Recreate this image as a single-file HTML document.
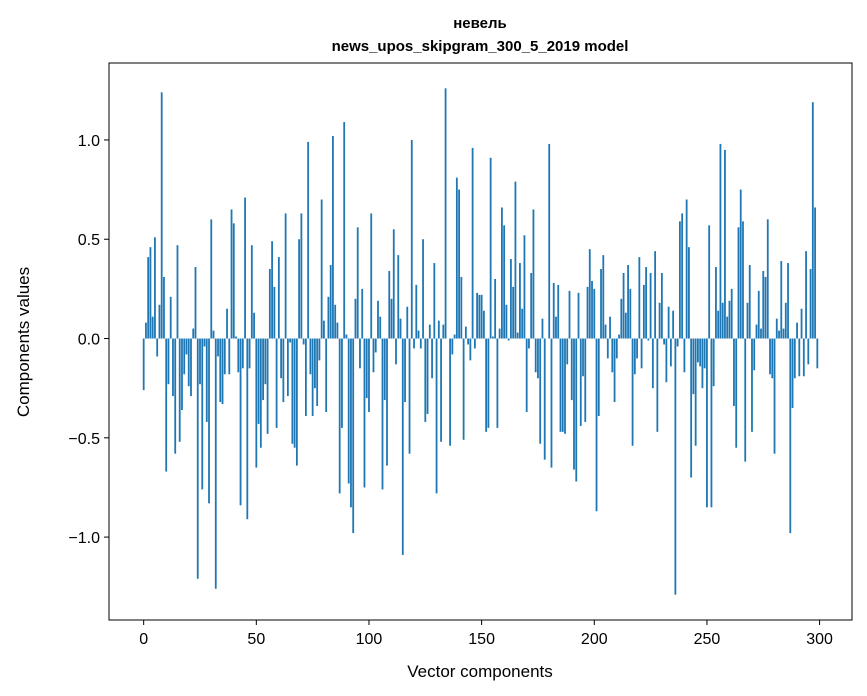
<!DOCTYPE html>
<html><head><meta charset="utf-8"><style>
body{margin:0;background:#fff;}
svg{display:block;font-family:"Liberation Sans","DejaVu Sans",sans-serif;}
</style></head><body>
<svg id="chart" width="867" height="696">
<text x="480" y="28" text-anchor="middle" font-size="15" font-weight="bold">невель</text>
<text x="480" y="51" text-anchor="middle" font-size="15" font-weight="bold">news_upos_skipgram_300_5_2019 model</text>
<g id="bars"></g>
<g id="axes"></g>
<text x="480" y="677" text-anchor="middle" font-size="17">Vector components</text>
<text transform="translate(29,342) rotate(-90)" text-anchor="middle" font-size="17">Components values</text>
</svg>
<script>
const values = [-0.26,0.08,0.41,0.46,0.11,0.51,-0.09,0.17,1.24,0.31,-0.67,-0.23,0.21,-0.29,-0.58,0.47,-0.52,-0.36,-0.18,-0.08,
-0.24,-0.29,0.05,0.36,-1.21,-0.23,-0.76,-0.04,-0.42,-0.83,0.6,0.04,-1.26,-0.09,-0.32,-0.33,-0.18,0.15,-0.18,0.65,
0.58,0.01,-0.17,-0.84,-0.15,0.71,-0.91,-0.15,0.47,0.13,-0.65,-0.43,-0.55,-0.31,-0.23,-0.48,0.35,0.49,0.26,-0.45,
0.41,-0.2,-0.32,0.63,-0.29,-0.02,-0.53,-0.55,-0.64,0.5,0.63,-0.03,-0.39,0.99,-0.18,-0.39,-0.25,-0.34,-0.11,0.7,
0.09,-0.37,0.21,0.37,1.02,0.17,0.08,-0.78,-0.45,1.09,0.02,-0.73,-0.85,-0.98,0.2,0.56,-0.15,0.25,-0.75,-0.3,
-0.37,0.63,-0.17,-0.07,0.19,0.11,-0.76,-0.31,-0.64,0.34,0.2,0.55,-0.13,0.42,0.1,-1.09,-0.32,0.16,-0.58,1.0,
-0.05,0.27,0.04,-0.05,0.5,-0.42,-0.38,0.07,-0.2,0.38,-0.78,0.09,-0.52,0.07,1.26,0.0,-0.54,-0.08,0.02,0.81,
0.75,0.31,-0.51,0.06,-0.03,-0.11,0.96,-0.05,0.23,0.22,0.22,0.14,-0.47,-0.45,0.91,0.01,0.3,-0.45,0.05,0.66,
0.57,0.17,-0.01,0.4,0.26,0.79,0.03,0.38,0.15,0.52,-0.37,-0.05,0.33,0.65,-0.17,-0.2,-0.53,0.1,-0.61,0.0,
0.98,-0.65,0.28,0.11,0.27,-0.47,-0.47,-0.48,-0.13,0.24,-0.31,-0.66,-0.72,0.23,-0.44,-0.19,-0.42,0.26,0.45,0.29,
0.25,-0.87,-0.39,0.35,0.42,0.07,-0.1,0.11,-0.17,-0.32,-0.1,0.02,0.2,0.33,0.13,0.37,0.25,-0.54,-0.18,-0.1,
0.41,-0.15,0.27,0.36,-0.01,0.33,-0.25,0.44,-0.47,0.18,0.33,-0.03,-0.22,0.16,-0.14,0.14,-1.29,-0.04,0.59,0.63,
-0.17,0.7,0.46,-0.7,-0.28,-0.54,-0.12,-0.14,-0.25,-0.15,-0.85,0.57,-0.85,-0.24,0.36,0.14,0.98,0.18,0.95,0.11,
0.19,0.25,-0.34,-0.55,0.56,0.75,0.59,-0.62,0.18,0.37,-0.47,-0.16,0.07,0.24,0.05,0.34,0.31,0.6,-0.18,-0.2,
-0.58,0.1,0.04,0.39,0.05,0.18,0.38,-0.98,-0.35,-0.2,0.08,-0.19,0.15,-0.19,0.44,-0.13,0.35,1.19,0.66,-0.15];
const xTicks = [0,50,100,150,200,250,300];
const yTicks = [-1.0,-0.5,0.0,0.5,1.0];
const yTickLabels = ["\u22121.0","\u22120.5","0.0","0.5","1.0"];

const NS="http://www.w3.org/2000/svg";
const L=109,R=852,T=63,B=620;
const n=values.length;
const xmin=-0.4, xmax=n-1+0.4, xm=(xmax-xmin)*0.05;
const x0=xmin-xm, x1=xmax+xm;
const vmin=Math.min(0,...values), vmax=Math.max(0,...values), ym=(vmax-vmin)*0.05;
const y0=vmin-ym, y1=vmax+ym;
const sx=v=>L+(v-x0)/(x1-x0)*(R-L);
const sy=v=>B-(v-y0)/(y1-y0)*(B-T);
const bars=document.getElementById('bars');
values.forEach((v,i)=>{
  const r=document.createElementNS(NS,'rect');
  const a=sx(i-0.4), b=sx(i+0.4);
  r.setAttribute('x',a); r.setAttribute('width',b-a);
  r.setAttribute('y',Math.min(sy(v),sy(0))); r.setAttribute('height',Math.abs(sy(v)-sy(0)));
  r.setAttribute('fill','#1f77b4');
  
  
  bars.appendChild(r);
});
const ax=document.getElementById('axes');
const frame=document.createElementNS(NS,'rect');
frame.setAttribute('x',L);frame.setAttribute('y',T);frame.setAttribute('width',R-L);frame.setAttribute('height',B-T);
frame.setAttribute('fill','none');frame.setAttribute('stroke','#000');frame.setAttribute('stroke-width','1');


ax.appendChild(frame);
xTicks.forEach(t=>{
  const x=sx(t);
  const l=document.createElementNS(NS,'line');
  l.setAttribute('x1',x);l.setAttribute('x2',x);l.setAttribute('y1',B);l.setAttribute('y2',B+5);l.setAttribute('stroke','#000');
  
  
  ax.appendChild(l);
  const tx=document.createElementNS(NS,'text');
  tx.setAttribute('x',x);tx.setAttribute('y',B+24);tx.setAttribute('text-anchor','middle');tx.setAttribute('font-size','16');
  tx.textContent=t;
  
  
  ax.appendChild(tx);
});
yTicks.forEach((t,i)=>{
  const y=sy(t);
  const l=document.createElementNS(NS,'line');
  l.setAttribute('x1',L-5);l.setAttribute('x2',L);l.setAttribute('y1',y);l.setAttribute('y2',y);l.setAttribute('stroke','#000');
  
  
  ax.appendChild(l);
  const tx=document.createElementNS(NS,'text');
  tx.setAttribute('x',L-9);tx.setAttribute('y',y+6);tx.setAttribute('text-anchor','end');tx.setAttribute('font-size','16');
  tx.textContent=yTickLabels[i];
  
  
  ax.appendChild(tx);
});
</script>
</body></html>
